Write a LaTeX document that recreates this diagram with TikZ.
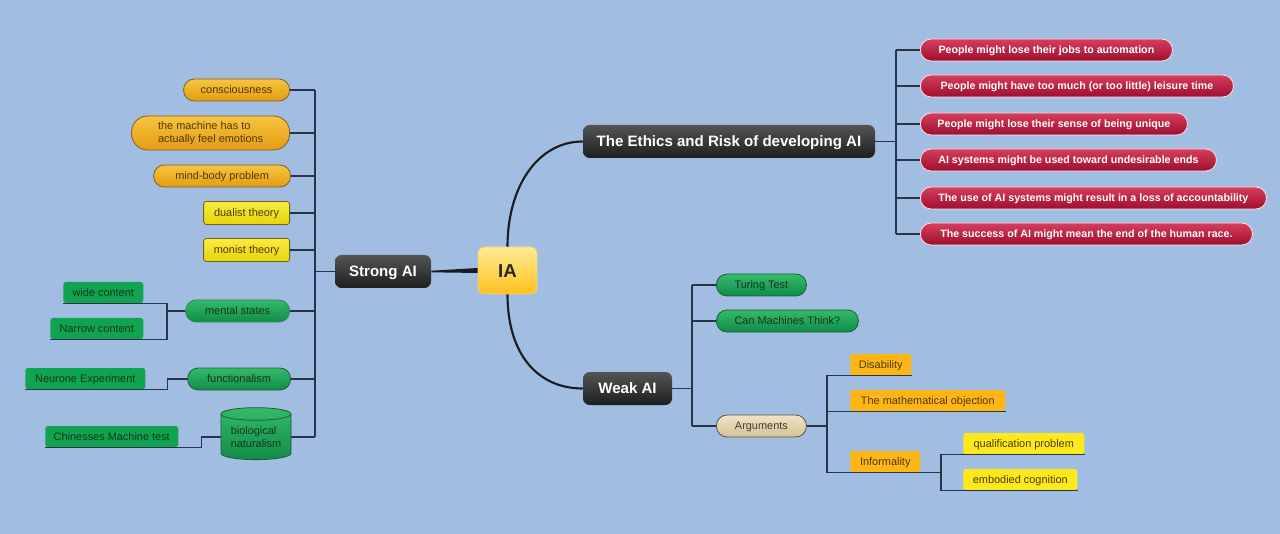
\documentclass[tikz,border=0pt]{standalone}
\usepackage{fontspec}
\setmainfont{Liberation Sans}
\usetikzlibrary{shapes.geometric,calc}
\definecolor{bgblue}{RGB}{161,190,226}
\definecolor{linec}{RGB}{40,52,72}
\definecolor{curvec}{RGB}{28,28,30}
\definecolor{dkA}{RGB}{84,84,84}
\definecolor{dkB}{RGB}{30,30,30}
\definecolor{redA}{RGB}{214,62,92}
\definecolor{redB}{RGB}{158,14,46}
\definecolor{redE}{RGB}{250,226,232}
\definecolor{orgA}{RGB}{247,196,64}
\definecolor{orgB}{RGB}{228,156,18}
\definecolor{orgE}{RGB}{120,96,40}
\definecolor{orgT}{RGB}{78,56,10}
\definecolor{ylwA}{RGB}{248,236,64}
\definecolor{ylwB}{RGB}{232,212,10}
\definecolor{ylwE}{RGB}{110,100,30}
\definecolor{grnA}{RGB}{52,186,106}
\definecolor{grnB}{RGB}{16,140,72}
\definecolor{grnE}{RGB}{30,90,55}
\definecolor{grnT}{RGB}{20,52,30}
\definecolor{grnF}{RGB}{16,164,80}
\definecolor{bgeA}{RGB}{238,228,200}
\definecolor{bgeB}{RGB}{212,194,150}
\definecolor{bgeE}{RGB}{90,80,60}
\definecolor{bgeT}{RGB}{70,60,40}
\definecolor{orgF}{RGB}{255,182,22}
\definecolor{ylwF}{RGB}{255,232,28}
\definecolor{iaA}{RGB}{255,236,150}
\definecolor{iaB}{RGB}{255,192,30}
\definecolor{iaE}{RGB}{240,214,130}
\begin{document}
\begin{tikzpicture}[x=0.75pt,y=-0.75pt,
    font=\fontsize{8.2}{9.5}\selectfont,
    every node/.style={text height=5.9pt,text depth=0.4pt},
    con/.style={draw=linec,line width=0.9pt},
    topic/.style={rounded corners=5pt,top color=dkA,bottom color=dkB,text=white,
      font=\bfseries\fontsize{11.3}{13}\selectfont,minimum height=24.75pt,inner sep=0pt,
      text height=8.1pt,text depth=0.6pt},
    risk/.style={draw=redE,line width=0.6pt,rounded corners=8pt,top color=redA,bottom color=redB,
      text=white,font=\bfseries\fontsize{8}{9}\selectfont,minimum height=16.5pt,inner sep=0pt,anchor=west},
    pill/.style={rounded corners=8pt,minimum height=16.5pt,inner sep=0pt,line width=0.6pt},
    orng/.style={pill,draw=orgE,top color=orgA,bottom color=orgB,text=orgT,anchor=east},
    grn/.style={pill,draw=grnE,top color=grnA,bottom color=grnB,text=grnT},
    ylw/.style={draw=ylwE,line width=0.6pt,rounded corners=2pt,top color=ylwA,bottom color=ylwB,
      text=orgT,minimum height=17.25pt,minimum width=64.5pt,inner sep=0pt,anchor=east},
    flat/.style={rounded corners=2pt,minimum height=15.75pt,inner sep=0pt,anchor=west}]
  \fill[bgblue] (0,0) rectangle (1280,534);
  \useasboundingbox (0,0) rectangle (1280,534);

  \node[draw=iaE,line width=0.6pt,rounded corners=5pt,top color=iaA,bottom color=iaB,
    minimum width=44.25pt,minimum height=35.25pt,text=black!85,text height=10pt,text depth=0pt,
    font=\bfseries\fontsize{14}{16}\selectfont] (ia) at (507.5,270.5) {IA};
  \node[topic,minimum width=72pt] (sai) at (383,271.5) {Strong AI};
  \node[topic,minimum width=219pt] (eth) at (729,141.5) {The Ethics and Risk of developing AI};
  \node[topic,minimum width=66.75pt] (wai) at (627.5,388.5) {Weak AI};

  \fill[curvec] ($(ia.west)+(0,2.5)$) -- ($(sai.east)+(0,0.8)$) -- ($(sai.east)+(0,-0.8)$)
    -- ($(ia.west)+(0,-2.5)$) -- cycle;
  \draw[curvec,line width=1.6pt] (ia.north) .. controls +(0,-60) and +(-45,0) .. (eth.west);
  \draw[curvec,line width=1.6pt] (ia.south) .. controls +(0,60) and +(-45,0) .. (wai.west);

  \foreach \i/\y/\w/\t in {1/50/189/{People might lose their jobs to automation},
      2/86/234.75/{People might have too much (or too little) leisure time},
      3/124/200.25/{People might lose their sense of being unique},
      4/160/222/{AI systems might be used toward undesirable ends},
      5/198/259.5/{The use of AI systems might result in a loss of accountability},
      6/234/249/{The success of AI might mean the end of the human race.}}
    \node[risk,minimum width=\w pt] (r\i) at (920,\y) {\t};
  \coordinate (e0) at (896,141.5);
  \draw[con] (eth.east) -- (e0);
  \draw[con] (e0 |- r1.west) -- (e0 |- r6.west);
  \foreach \i in {1,...,6}
    \draw[con] (e0 |- r\i.west) -- (r\i.west);

  \node[orng,minimum width=79.5pt] (cons) at (290,90) {consciousness};
  \node[orng,minimum width=118.5pt,minimum height=25.5pt,rounded corners=12pt,align=left,
    text height=,text depth=] (emo) at (290,133) {the machine has to\\actually feel emotions};
  \node[orng,minimum width=102.75pt] (mbp) at (291,176) {mind-body problem};
  \node[ylw] (dua) at (290,213) {dualist theory};
  \node[ylw] (mon) at (290,250) {monist theory};
  \node[grn,draw=grnE!50!grnA,minimum width=78pt,anchor=east] (mst) at (290,311) {mental states};
  \node[grn,minimum width=77.25pt,anchor=east] (fun) at (291,379) {functionalism};
  \node[cylinder,shape border rotate=90,aspect=0.25,draw=grnE,line width=0.6pt,top color=grnA,
    bottom color=grnB,text=grnT,minimum width=52.5pt,minimum height=39pt,inner sep=0pt,
    align=left,text height=,text depth=] (bio) at (256,437) {biological\\naturalism};

  \node[flat,fill=grnF,text=grnT,minimum width=60pt] (wid) at (63,292.5) {wide content};
  \node[flat,fill=grnF,text=grnT,minimum width=69.75pt] (nar) at (50,328.5) {Narrow content};
  \node[flat,fill=grnF,text=grnT,minimum width=90pt] (neu) at (25,378.5) {Neurone Experiment};
  \node[flat,fill=grnF,text=grnT,minimum width=99.75pt] (chi) at (45,436.5) {Chinesses Machine test};

  \coordinate (s0) at (315,271.5);
  \draw[con] (sai.west) -- (s0);
  \draw[con] (s0 |- cons.east) -- (s0 |- bio.center);
  \foreach \n in {cons,emo,mbp,dua,mon,mst,fun,bio}
    \draw[con] (\n.east) -- (s0 |- \n.east);
  \coordinate (m0) at (167,311);
  \draw[con] (mst.west) -- (m0);
  \draw[con] (wid.south west) -- (wid.south -| m0) -- (nar.south -| m0) -- (nar.south west);
  \draw[con] (fun.west) -- ++(-20,0) |- (neu.south west);
  \draw[con] (bio.west) -- ++(-19,0) |- (chi.south west);

  \node[grn,minimum width=67.5pt,anchor=west] (tur) at (716,285) {Turing Test};
  \node[grn,minimum width=106.5pt,anchor=west] (cmt) at (716,321) {Can Machines Think?};
  \node[pill,draw=bgeE,top color=bgeA,bottom color=bgeB,text=bgeT,minimum width=67.5pt,
    anchor=west] (arg) at (716,426) {Arguments};
  \coordinate (w0) at (692,388.5);
  \draw[con] (wai.east) -- (w0);
  \draw[con] (w0 |- tur.west) -- (w0 |- arg.west);
  \foreach \n in {tur,cmt,arg}
    \draw[con] (w0 |- \n.west) -- (\n.west);

  \node[flat,fill=orgF,text=orgT,minimum width=45.75pt] (dis) at (850,364.5) {Disability};
  \node[flat,fill=orgF,text=orgT,minimum width=116.25pt] (mat) at (850,400.5) {The mathematical objection};
  \node[flat,fill=orgF,text=orgT,minimum width=52.5pt] (inf) at (850,461.5) {Informality};
  \node[flat,fill=ylwF,text=orgT,minimum width=90.75pt] (qua) at (963,443.5) {qualification problem};
  \node[flat,fill=ylwF,text=orgT,minimum width=85.5pt] (emb) at (963,479.5) {embodied cognition};
  \coordinate (a0) at (827,426);
  \coordinate (i0) at (941,472.5);
  \draw[con] (arg.east) -- (a0);
  \draw[con] (dis.south east) -- (dis.south -| a0) -- (i0 -| a0) -- (i0);
  \draw[con] (mat.south east) -- (mat.south -| a0);
  \draw[con] (qua.south east) -- (qua.south -| i0) -- (emb.south -| i0) -- (emb.south east);
\end{tikzpicture}
\end{document}
